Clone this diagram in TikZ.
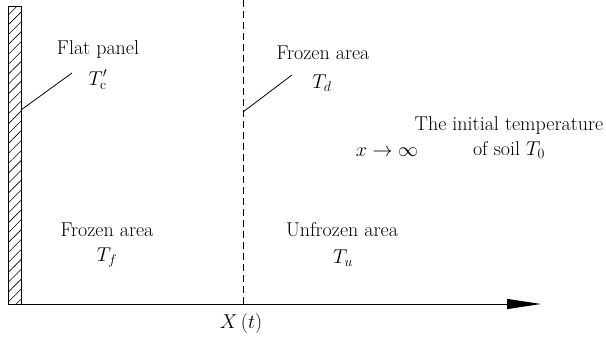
\documentclass[tikz,border=0pt]{standalone}
\usepackage{fix-cm}
\usetikzlibrary{arrows.meta,patterns.meta}
\begin{document}
\begin{tikzpicture}[x=1pt,y=-1pt,
        lbl/.style={inner sep=1pt, font=\fontsize{20}{25}\selectfont},
        leader/.style={line width=0.8pt}]
        \useasboundingbox (0,0) rectangle (606,340);

        % Flat panel (hatched wall)
        \draw[line width=0.8pt, pattern={Lines[angle=45,distance=7pt,line width=0.6pt]}] (8,6) rectangle (21,304);

        % Axis
        \coordinate (o) at (8,304);
        \coordinate (xend) at (541,304);
        \draw[line width=1pt, -{Triangle[length=34pt,width=10pt]}] (o) -- (xend);

        % Freezing front X(t)
        \coordinate (ftop) at (243,0);
        \coordinate (fbot) at (243,304);
        \draw[line width=0.8pt, dash pattern=on 6.5pt off 4.5pt] (ftop) -- (fbot);
        \node[lbl] (xt) at (241,323) {$X\,(t)$};

        % Labels near the panel
        \node[lbl] (panel) at (98,50) {Flat panel};
        \node[lbl] (tc) at (98,80) {$T'_{\mathrm{c}}$};
        \coordinate (pa) at (21,110);
        \coordinate (pb) at (72,73);
        \draw[leader] (pa) -- (pb);

        % Labels at the front
        \node[lbl] (front) at (323,53) {Frozen area};
        \node[lbl] (td) at (322,83) {$T_d$};
        \coordinate (fa) at (243,112);
        \coordinate (fb) at (292,75);
        \draw[leader] (fa) -- (fb);

        % Far field
        \node[lbl, align=center] (init) at (509,138) {The initial temperature\\ of soil $T_0$};
        \node[lbl] (inf) at (387,152) {$x\rightarrow\infty$};

        % Regions
        \node[lbl] (frozen) at (107,230) {Frozen area};
        \node[lbl] (tf) at (107,258) {$T_f$};
        \node[lbl] (unfrozen) at (342,230) {Unfrozen area};
        \node[lbl] (tu) at (343,258) {$T_u$};
\end{tikzpicture}
\end{document}
